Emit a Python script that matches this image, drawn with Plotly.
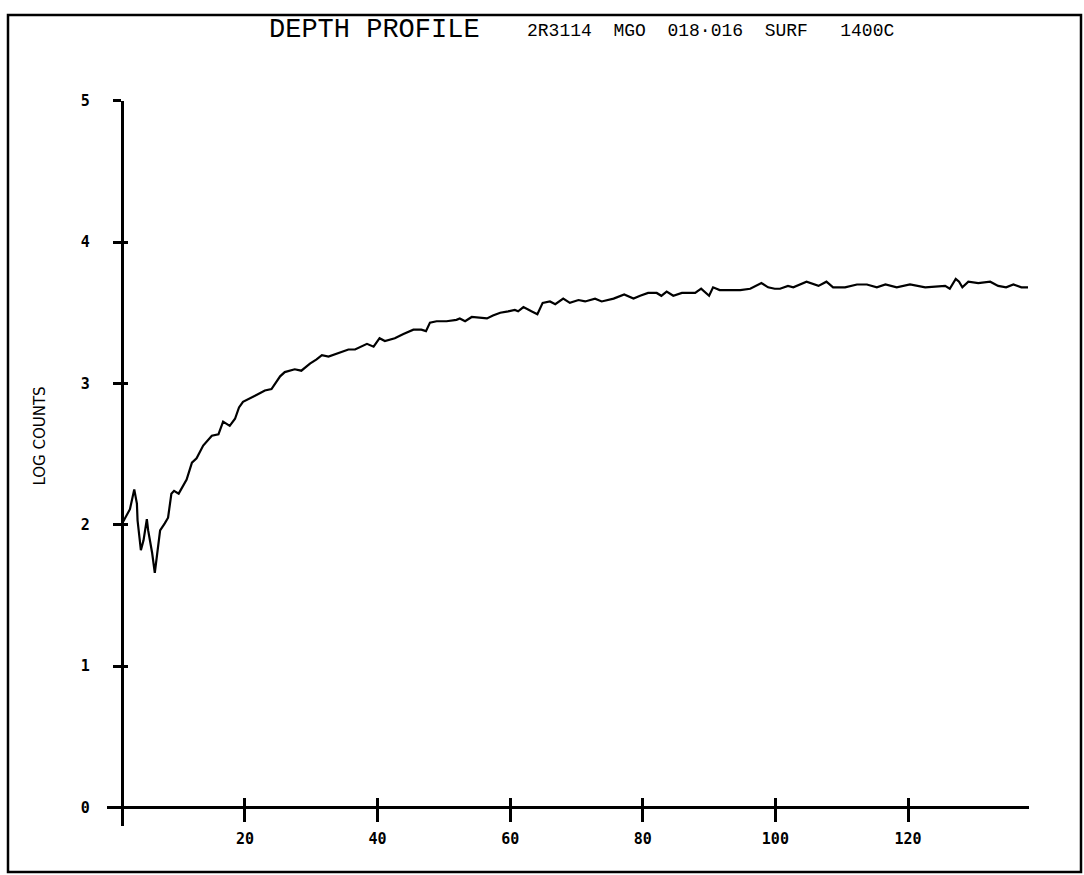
import plotly.graph_objects as go

W, H = 1084, 875

depth = [1.6, 2.65, 3.3, 3.7, 3.8, 4.3, 4.7, 5.2, 5.4, 5.7, 6.0, 6.4, 6.8, 7.2, 7.9, 8.4, 8.9, 9.3,
         10.0, 10.7, 11.2, 12.0, 12.7, 13.7, 15.0, 16.0, 16.7, 17.7, 18.5, 19.1, 19.7, 21.8, 23.0,
         24.0, 25.3, 26.0, 27.5, 28.5, 29.8, 30.8, 31.6, 32.6, 33.8, 35.6, 36.6, 38.4, 39.4, 40.3,
         41.1, 42.6, 43.9, 45.4, 46.6, 47.3, 47.9, 48.9, 50.4, 51.9, 52.4, 53.2, 54.2, 56.5, 57.4,
         58.5, 59.7, 60.7, 61.2, 62.0, 63.2, 64.1, 64.9, 66.0, 66.8, 68.0, 69.0, 70.3, 71.3, 72.8,
         73.8, 75.6, 77.2, 78.6, 79.6, 80.8, 82.1, 82.8, 83.6, 84.6, 85.9, 87.9, 88.8, 89.5, 90.0,
         90.6, 91.6, 94.7, 96.2, 97.9, 98.9, 99.9, 100.7, 101.9, 102.7, 104.7, 106.5, 107.7, 108.7,
         110.5, 112.3, 113.8, 115.3, 116.6, 118.3, 120.3, 121.8, 122.6, 125.6, 126.3, 127.2, 127.7,
         128.2, 129.1, 130.6, 132.4, 133.6, 134.8, 135.9, 137.1, 138.1]

log_counts = [2.02, 2.11, 2.25, 2.15, 2.03, 1.82, 1.89, 2.04, 1.96, 1.89, 1.80, 1.66, 1.80, 1.96,
              2.01, 2.05, 2.22, 2.24, 2.22, 2.28, 2.32, 2.44, 2.47, 2.56, 2.63, 2.64, 2.73, 2.70,
              2.75, 2.83, 2.87, 2.92, 2.95, 2.96, 3.05, 3.08, 3.10, 3.09, 3.14, 3.17, 3.20, 3.19,
              3.21, 3.24, 3.24, 3.28, 3.26, 3.32, 3.30, 3.32, 3.35, 3.38, 3.38, 3.37, 3.43, 3.44,
              3.44, 3.45, 3.46, 3.44, 3.47, 3.46, 3.48, 3.50, 3.51, 3.52, 3.51, 3.54, 3.51, 3.49,
              3.57, 3.58, 3.56, 3.60, 3.57, 3.59, 3.58, 3.60, 3.58, 3.60, 3.63, 3.60, 3.62, 3.64,
              3.64, 3.62, 3.65, 3.62, 3.64, 3.64, 3.67, 3.64, 3.62, 3.68, 3.66, 3.66, 3.67, 3.71,
              3.68, 3.67, 3.67, 3.69, 3.68, 3.72, 3.69, 3.72, 3.68, 3.68, 3.70, 3.70, 3.68, 3.70,
              3.68, 3.70, 3.69, 3.68, 3.69, 3.67, 3.74, 3.72, 3.68, 3.72, 3.71, 3.72, 3.69, 3.68,
              3.70, 3.68, 3.68]

x_ticks = [20, 40, 60, 80, 100, 120]
y_ticks = [0, 1, 2, 3, 4, 5]

title_text = "DEPTH PROFILE"
subtitle_text = "2R3114  MGO  018\u00b7016  SURF   1400C"
y_title = "LOG COUNTS"


def fx(px):
    return px / W


def fy(py):
    return 1 - py / H


x_range = [-0.81, 138.25]
y_range = [-0.128, 5.0]
x_dom = [fx(107), fx(1029)]
y_dom = [fy(825), fy(92.7)]
x_pos = fy(806.7)
y_pos = fx(121.5)

tick_font = dict(family="DejaVu Sans Mono", size=15, color="black", weight="bold")

fig = go.Figure()
fig.add_trace(go.Scatter(x=depth, y=log_counts, mode="lines",
                         line=dict(color="black", width=2.2), showlegend=False,
                         hoverinfo="skip"))
fig.add_trace(go.Scatter(x=depth, y=log_counts, mode="lines", xaxis="x2", yaxis="y2",
                         line=dict(color="rgba(0,0,0,0)", width=0), showlegend=False,
                         hoverinfo="skip"))

common_x = dict(domain=x_dom, range=x_range, anchor="free", position=x_pos,
                showgrid=False, zeroline=False, tickvals=x_ticks, tickwidth=2.5,
                tickcolor="black", fixedrange=True)
common_y = dict(domain=y_dom, range=y_range, anchor="free", position=y_pos,
                showgrid=False, zeroline=False, tickvals=y_ticks, tickwidth=2.5,
                tickcolor="black", fixedrange=True)

fig.update_layout(
    width=W, height=H,
    margin=dict(l=0, r=0, t=0, b=0),
    paper_bgcolor="white", plot_bgcolor="white",
    xaxis=dict(**common_x, showline=True, linewidth=2.5, linecolor="black",
               ticks="outside", ticklen=13, tickfont=tick_font, ticklabelstandoff=4),
    yaxis=dict(**common_y, showline=True, linewidth=2.5, linecolor="black",
               ticks="outside", ticklen=8, tickfont=tick_font, ticklabelstandoff=20),
    xaxis2=dict(**common_x, overlaying="x", showline=False, ticks="inside", ticklen=9,
                showticklabels=False),
    yaxis2=dict(**common_y, overlaying="y", showline=False, ticks="inside", ticklen=5,
                showticklabels=False),
    shapes=[dict(type="rect", xref="paper", yref="paper",
                 x0=fx(8), x1=fx(1081), y0=fy(872), y1=fy(6),
                 line=dict(color="black", width=2.5))],
    annotations=[
        dict(text=title_text, x=fx(374), y=fy(21), xref="paper", yref="paper",
             xanchor="center", yanchor="middle", showarrow=False,
             font=dict(family="Liberation Mono", size=27, color="black")),
        dict(text=subtitle_text, x=fx(525), y=fy(22), xref="paper", yref="paper",
             xanchor="left", yanchor="middle", showarrow=False,
             font=dict(family="Liberation Mono", size=18, color="black")),
        dict(text=y_title, x=fx(40), y=fy(432), xref="paper", yref="paper",
             xanchor="center", yanchor="middle", showarrow=False, textangle=-90,
             font=dict(family="DejaVu Sans", size=15, color="black")),
    ],
)

fig.write_html("out.html")
